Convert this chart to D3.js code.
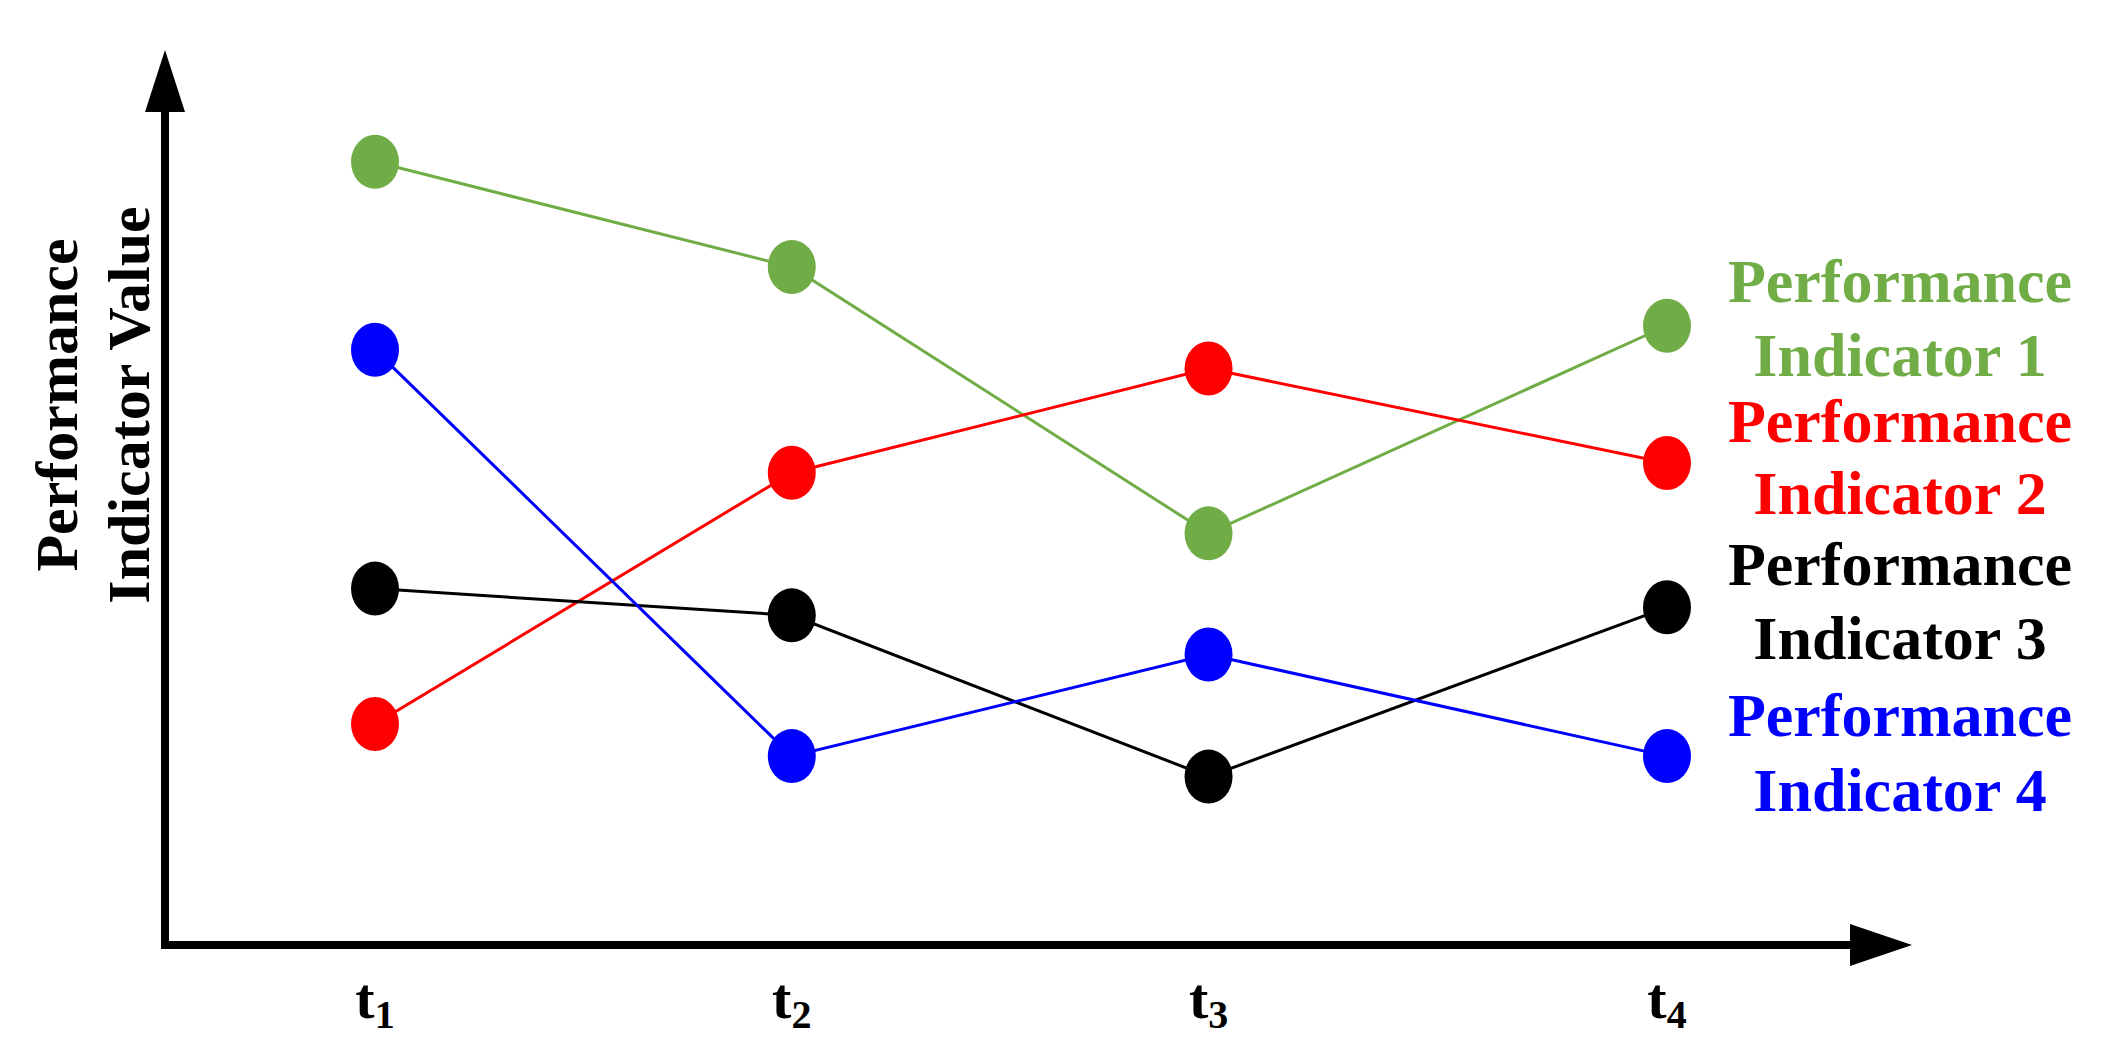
<!DOCTYPE html><html><head><meta charset="utf-8"><script src="https://cdn.jsdelivr.net/npm/d3@7"></script>
<style>body{margin:0;background:#fff}</style></head><body><svg id="c" width="2116" height="1060"></svg>
<script>
const times=["1","2","3","4"];
const timePos=[1,2,3,4.1];
const names=["Performance Indicator 1","Performance Indicator 2","Performance Indicator 3","Performance Indicator 4"];
const colors=["#70ad47","#ff0000","#000000","#0000ff"];
const pi1=[8.79,7.61,4.62,6.95];
const pi2=[2.48,5.30,6.47,5.41];
const pi3=[4.00,3.70,1.89,3.79];
const pi4=[6.68,2.12,3.26,2.12];
const series=[pi1,pi2,pi3,pi4];
const svg=d3.select("#c");
const F="'Liberation Serif','DejaVu Serif',serif";
const x=d3.scaleLinear().domain([1,4.1]).range([375,1667]);
const y=d3.scaleLinear().domain([0,10]).range([945,54]);
svg.append("line").attr("x1",165).attr("y1",949).attr("x2",165).attr("y2",110).attr("stroke","#000").attr("stroke-width",8);
svg.append("path").attr("d","M165,50 L145,112 L185,112 Z").attr("fill","#000");
svg.append("line").attr("x1",161).attr("y1",945).attr("x2",1860).attr("y2",945).attr("stroke","#000").attr("stroke-width",8);
svg.append("path").attr("d","M1912,945 L1850,924 L1850,966 Z").attr("fill","#000");
times.forEach((t,i)=>{const tx=svg.append("text").attr("x",x(timePos[i])).attr("y",1018).attr("text-anchor","middle").attr("font-family",F).attr("font-weight","bold").attr("font-size",58);
 tx.append("tspan").text("t");tx.append("tspan").attr("font-size",40).attr("dy",10).text(t);});
[["Performance",63],["Indicator Value",135]].forEach(([s,px])=>svg.append("text").attr("transform",`translate(${px},405) rotate(-90)`).attr("text-anchor","middle").attr("dominant-baseline","middle").attr("font-family",F).attr("font-weight","bold").attr("font-size",60).text(s));
const line=d3.line().x((d,i)=>x(timePos[i])).y(d=>y(d));
series.forEach((s,k)=>svg.append("path").attr("d",line(s)).attr("fill","none").attr("stroke",colors[k]).attr("stroke-width",3));
series.forEach((s,k)=>svg.selectAll(null).data(s).enter().append("ellipse").attr("cx",(d,i)=>x(timePos[i])).attr("cy",d=>y(d)).attr("rx",24).attr("ry",27).attr("fill",colors[k]));
const ly=[288,362,428,500,571,645,722,797];
names.forEach((n,k)=>{const w=n.split(" ");
 svg.append("text").attr("x",1900).attr("y",ly[2*k]).attr("text-anchor","middle").attr("dominant-baseline","middle").attr("font-family",F).attr("font-weight","bold").attr("font-size",62).attr("fill",colors[k]).text(w[0]);
 svg.append("text").attr("x",1900).attr("y",ly[2*k+1]).attr("text-anchor","middle").attr("dominant-baseline","middle").attr("font-family",F).attr("font-weight","bold").attr("font-size",62).attr("fill",colors[k]).text(w[1]+" "+w[2]);});
</script></body></html>
